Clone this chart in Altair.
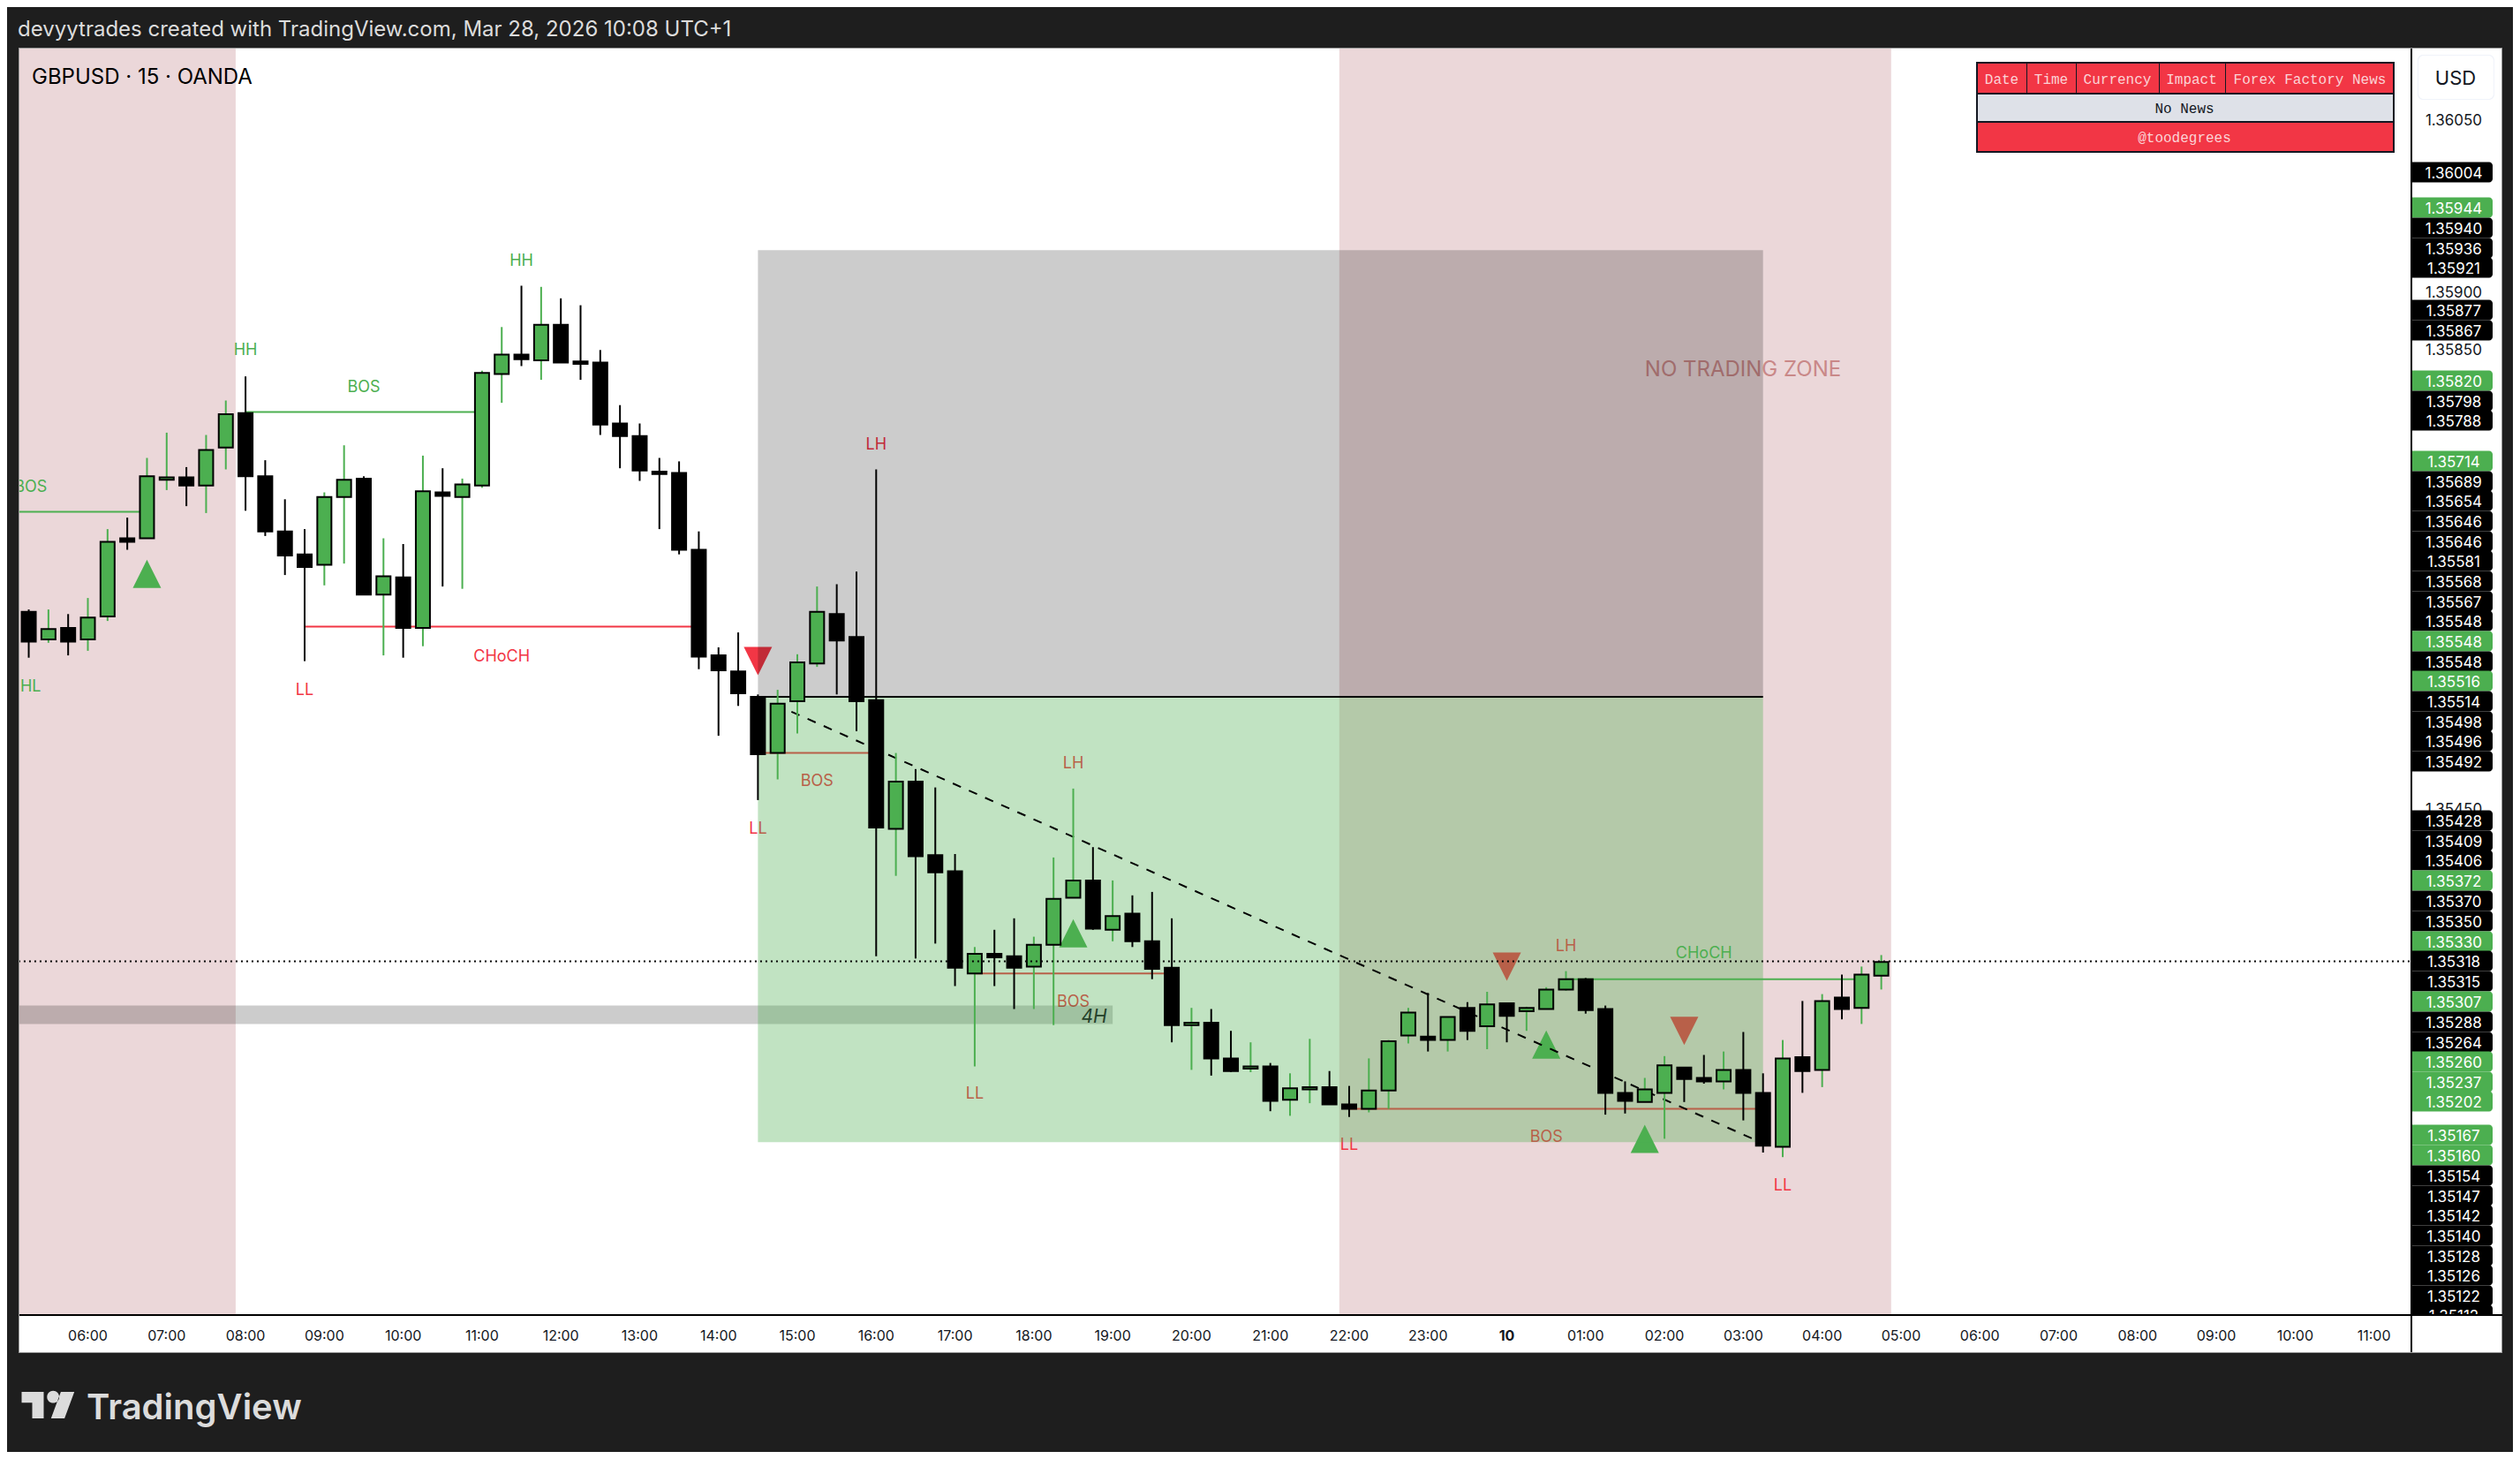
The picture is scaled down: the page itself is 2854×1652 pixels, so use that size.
import altair as alt
import pandas as pd

# ---------- market data (prices in units of 0.00001) ----------
BAR = list(range(-3, 92))
OPEN = [135621,135597,135607,135597,135617,135685,135685,135736,135738,135731,135764,135794,135739,135691,135671,135662,135721,135737,135636,135651,135607,135725,135721,135731,135828,135845,135840,135871,135839,135838,135785,135774,135743,135742,135675,135583,135569,135547,135498,135543,135576,135619,135599,135544,135432,135473,135409,135395,135306,135323,135321,135312,135331,135372,135387,135344,135358,135334,135311,135261,135263,135232,135223,135225,135196,135205,135207,135192,135188,135204,135252,135251,135248,135276,135260,135280,135273,135275,135292,135301,135275,135202,135194,135202,135224,135215,135212,135222,135202,135155,135233,135222,135285,135276,135304]
HIGH = [135623,135623,135619,135633,135693,135703,135755,135777,135747,135775,135805,135826,135753,135719,135693,135725,135766,135739,135685,135680,135757,135746,135737,135831,135869,135905,135904,135894,135888,135849,135801,135785,135755,135752,135691,135590,135603,135549,135553,135584,135643,135645,135656,135745,135498,135484,135468,135410,135329,135344,135354,135338,135407,135467,135416,135387,135374,135377,135354,135276,135275,135256,135246,135228,135219,135249,135221,135208,135232,135248,135276,135289,135268,135281,135290,135280,135277,135294,135308,135302,135278,135212,135215,135234,135224,135235,135238,135255,135219,135248,135282,135288,135305,135312,135322]
LOW = [135581,135594,135583,135587,135613,135675,135685,135727,135713,135707,135745,135709,135687,135653,135578,135644,135663,135636,135583,135581,135591,135643,135641,135729,135803,135835,135823,135838,135823,135775,135746,135735,135693,135671,135571,135513,135539,135457,135475,135515,135573,135549,135517,135321,135391,135319,135332,135295,135225,135295,135275,135275,135261,135372,135344,135334,135329,135301,135246,135222,135217,135220,135220,135186,135182,135193,135192,135181,135185,135188,135245,135238,135238,135248,135240,135246,135256,135275,135291,135271,135183,135184,135194,135162,135194,135210,135205,135178,135150,135146,135202,135207,135266,135262,135292]
CLOSE = [135595,135606,135595,135616,135682,135682,135739,135738,135731,135762,135793,135739,135691,135670,135660,135721,135736,135636,135652,135607,135726,135722,135732,135829,135845,135841,135871,135838,135837,135784,135774,135744,135741,135675,135582,135570,135550,135497,135541,135577,135621,135596,135543,135433,135473,135408,135394,135311,135323,135320,135311,135331,135371,135387,135345,135356,135334,135310,135261,135263,135232,135221,135225,135195,135206,135207,135192,135188,135204,135247,135272,135248,135268,135256,135279,135269,135276,135292,135301,135274,135202,135195,135205,135226,135214,135212,135222,135202,135156,135232,135221,135282,135275,135305,135316]

# ---------- annotations ----------
SESSION_START = [-3.52, 63.5]
SESSION_END = [7.5, 91.5]
LEVELS = [  # from bar, to bar, price, colour name
    (-4, 3, 135708, "up"), (8, 20, 135795, "up"), (11, 31, 135608, "down"),
    (34, 40, 135498, "down"), (45, 55, 135306, "down"), (64, 85, 135188, "down"),
    (75, 90, 135301, "up"),
]
LABELS = [  # text, bar, price, colour name
    ("BOS", -2.9, 135731, "up"), ("HL", -2.9, 135557, "up"), ("HH", 8, 135850, "up"),
    ("BOS", 14, 135818, "up"), ("HH", 22, 135928, "up"), ("LL", 11, 135554, "down"),
    ("CHoCH", 21, 135583, "down"), ("LH", 40, 135768, "down"), ("LL", 34, 135433, "down"),
    ("BOS", 37, 135475, "down"), ("LH", 50, 135490, "down"), ("BOS", 50, 135282, "down"),
    ("LL", 45, 135202, "down"), ("LH", 75, 135331, "down"), ("CHoCH", 82, 135325, "up"),
    ("BOS", 74, 135165, "down"), ("LL", 64, 135158, "down"), ("LL", 86, 135122, "down"),
]
TRI_UP = [(3, 135654), (50, 135341), (74, 135244), (79, 135162)]
TRI_DOWN = [(34, 135578), (72, 135312), (81, 135256)]
BOX_FROM, BOX_TO = 34, 85
BOX_TOP, BOX_MID, BOX_BOTTOM = 135936, 135547, 135159
TREND_BAR = [35.7, 85]
TREND_PRICE = [135534, 135158]
LAST_PRICE = 135316.5
BAND_FROM, BAND_TO, BAND_TOP, BAND_BOTTOM = -3.52, 52, 135278, 135262

TIME_BARS = list(range(0, 120, 4))
TIME_TEXT = [f"{h:02d}:00" for h in range(6, 24)] + ["10"] + [f"{h:02d}:00" for h in range(1, 12)]

# price column
TAG_TEXT = ["1.36050","1.36004","1.35944","1.35940","1.35936","1.35921","1.35900","1.35877","1.35867","1.35850","1.35820","1.35798","1.35788","1.35714","1.35689","1.35654","1.35646","1.35646","1.35581","1.35568","1.35567","1.35548","1.35548","1.35548","1.35516","1.35514","1.35498","1.35496","1.35492","1.35450","1.35428","1.35409","1.35406","1.35372","1.35370","1.35350","1.35330","1.35318","1.35315","1.35307","1.35288","1.35264","1.35260","1.35237","1.35202","1.35167","1.35160","1.35154","1.35147","1.35142","1.35140","1.35128","1.35126","1.35122","1.35112"]
GREEN_TAGS = {2, 10, 13, 22, 24, 33, 36, 39, 42, 43, 44, 45, 46}
PLAIN_TAGS = {0, 6, 9, 29}
# slots in the column after the platform de-overlaps the tags (layout, not data)
TAG_SLOT = [135,195,235,258,281,303,330,351,374,395,431,454,476,522,545,567,590,613,635,658,681,703,726,749,771,794,817,839,862,915,929,952,974,997,1020,1043,1066,1088,1111,1134,1157,1180,1202,1225,1247,1285,1308,1331,1354,1376,1399,1422,1444,1467,1489]

# ---------- colours ----------
UP, DOWN, INK, DARK = "#4caf50", "#f23645", "#000000", "#1e1e1e"
TONE = {"up": UP, "down": DOWN}
PINK = "#ebd7d9"
OFF = 8  # page margin
TEXT_DY = 2

XS = alt.Scale(domain=[0, 100], range=[91.5, 2323.5], nice=False, zero=False, padding=0)
YS = alt.Scale(domain=[1.35, 1.3605], range=[1492, 127], nice=False, zero=False, padding=0)
P = 1e-5


def bx(f="i"):
    return alt.X(f"{f}:Q", scale=XS, axis=None, title=None)


def by(f="p"):
    return alt.Y(f"{f}:Q", scale=YS, axis=None, title=None)


def rx(f="x"):
    return alt.X(f"{f}:Q", scale=None, axis=None, title=None)


def ry(f="y"):
    return alt.Y(f"{f}:Q", scale=None, axis=None, title=None)


def rects(rows, **mark):
    df = pd.DataFrame(rows, columns=["x", "x2", "y", "y2", "c"])
    for k in ["x", "x2", "y", "y2"]:
        df[k] = df[k] - OFF
    return alt.Chart(df).mark_rect(**mark).encode(
        x=rx(), x2=alt.X2("x2:Q"), y=ry(), y2=alt.Y2("y2:Q"),
        color=alt.Color("c:N", scale=None, legend=None))


def texts(rows, **mark):
    df = pd.DataFrame(rows, columns=["t", "x", "y"])
    df["x"] -= OFF
    df["y"] -= OFF
    mark.setdefault("baseline", "middle")
    mark.setdefault("dy", TEXT_DY)
    return alt.Chart(df).mark_text(**mark).encode(x=rx(), y=ry(), text="t:N")


def price_band(i0, i1, top, bottom, color, opacity):
    df = pd.DataFrame([{"i": i0, "i2": i1, "p": top * P, "p2": bottom * P}])
    return alt.Chart(df).mark_rect(color=color, opacity=opacity).encode(
        x=bx(), x2=alt.X2("i2:Q"), y=by(), y2=alt.Y2("p2:Q"))


layers = []
# frame and plot paper
layers.append(rects([(21, 2834, 54, 1532, "#9a9a9a"), (22, 2833, 55, 1531, "#ffffff")]))

# session shading
sess = pd.DataFrame({"i": SESSION_START, "i2": SESSION_END, "y": [55 - OFF] * 2, "y2": [1488 - OFF] * 2})
layers.append(alt.Chart(sess).mark_rect(color=PINK).encode(
    x=bx(), x2=alt.X2("i2:Q"), y=ry(), y2=alt.Y2("y2:Q")))

# structure lines, labels, signals (sit under the position box)
lv = pd.DataFrame([{"i": a, "i2": b, "p": v * P, "c": TONE[c]} for a, b, v, c in LEVELS])
layers.append(alt.Chart(lv).mark_rule(strokeWidth=2).encode(
    x=bx(), x2=alt.X2("i2:Q"), y=by(), color=alt.Color("c:N", scale=None, legend=None)))
lb = pd.DataFrame([{"t": t, "i": a, "p": v * P, "c": TONE[c]} for t, a, v, c in LABELS])
layers.append(alt.Chart(lb).mark_text(font="Inter", fontSize=18, baseline="middle", dy=TEXT_DY).encode(
    x=bx(), y=by(), text="t:N", color=alt.Color("c:N", scale=None, legend=None)))
up = pd.DataFrame([{"i": a, "p": v * P} for a, v in TRI_UP])
dn = pd.DataFrame([{"i": a, "p": v * P} for a, v in TRI_DOWN])
layers.append(alt.Chart(up).mark_point(filled=True, shape="M-1,1L1,1L0,-1Z", size=1024, color=UP, opacity=1, strokeWidth=0).encode(x=bx(), y=by()))
layers.append(alt.Chart(dn).mark_point(filled=True, shape="M-1,-1L1,-1L0,1Z", size=1024, color=DOWN, opacity=1, strokeWidth=0).encode(x=bx(), y=by()))
layers.append(texts([("NO TRADING ZONE", 1974, 417)], font="Inter", fontSize=24, color="#c98888"))

# 4H zone
layers.append(price_band(BAND_FROM, BAND_TO, BAND_TOP, BAND_BOTTOM, "#000000", 0.2))

# position box
layers.append(price_band(BOX_FROM, BOX_TO, BOX_TOP, BOX_MID, "#000000", 0.2))
layers.append(price_band(BOX_FROM, BOX_TO, BOX_MID, BOX_BOTTOM, UP, 0.35))
layers.append(alt.Chart(pd.DataFrame([{"i": BOX_FROM, "i2": BOX_TO, "p": BOX_MID * P}])).mark_rule(strokeWidth=2, color=INK).encode(
    x=bx(), x2=alt.X2("i2:Q"), y=by()))
layers.append(texts([("4H", 1239, 1150)], font="Inter", fontSize=21, fontStyle="italic", color="#24402a"))

# trend line
tr = pd.DataFrame({"i": TREND_BAR, "p": [v * P for v in TREND_PRICE]})
layers.append(alt.Chart(tr).mark_line(color=INK, strokeWidth=2, strokeDash=[10, 10]).encode(x=bx(), y=by()))

# candles
cd = pd.DataFrame({"i": BAR, "o": [v * P for v in OPEN], "h": [v * P for v in HIGH],
                   "l": [v * P for v in LOW], "cl": [v * P for v in CLOSE]})
cd["up"] = cd["cl"] >= cd["o"]
cd["wick"] = cd["up"].map({True: UP, False: INK})
layers.append(alt.Chart(cd).mark_rule(strokeWidth=2).encode(
    x=bx(), y=by("l"), y2=alt.Y2("h:Q"), color=alt.Color("wick:N", scale=None, legend=None)))
layers.append(alt.Chart(cd).mark_bar(size=16, stroke=INK, strokeWidth=2).encode(
    x=bx(), y=by("o"), y2=alt.Y2("cl:Q"), color=alt.Color("wick:N", scale=None, legend=None)))

# last price
lp = pd.DataFrame([{"i": -3.52, "i2": 118.2, "p": LAST_PRICE * P}])
layers.append(alt.Chart(lp).mark_rule(color=INK, strokeWidth=2, strokeDash=[2, 4]).encode(
    x=bx(), x2=alt.X2("i2:Q"), y=by()))

# clip strip at left, header
layers.append(rects([(0, 21, 0, 1652, DARK), (21, 22, 54, 1532, "#9a9a9a")]))
layers.append(texts([("devyytrades created with TradingView.com, Mar 28, 2026 10:08 UTC+1", 20, 32)],
                    font="Inter", fontSize=24, color="#dcdcdc", align="left"))
layers.append(texts([("GBPUSD · 15 · OANDA", 36, 86)], font="Inter", fontSize=24, color="#000000", align="left"))

# news table
layers.append(rects([
    (2238, 2712, 70, 173, "#131722"),
    (2240, 2295, 72, 105, DOWN), (2296, 2351, 72, 105, DOWN), (2352, 2445, 72, 105, DOWN),
    (2446, 2520, 72, 105, DOWN), (2521, 2710, 72, 105, DOWN),
    (2240, 2710, 107, 137, "#dee1e8"), (2240, 2710, 139, 171, DOWN),
]))
layers.append(texts([("Date", 2267, 88), ("Time", 2323, 88), ("Currency", 2398, 88), ("Impact", 2482, 88),
                     ("Forex Factory News", 2616, 88), ("@toodegrees", 2474, 154)],
                    font="Liberation Mono", fontSize=16, color="#fbd3d6"))
layers.append(texts([("No News", 2474, 121)], font="Liberation Mono", fontSize=16, color="#131722"))

# price column
plain = [(TAG_TEXT[k], 2779, TAG_SLOT[k]) for k in sorted(PLAIN_TAGS)]
layers.append(texts(plain, font="Inter", fontSize=17, color="#131722"))
tags = []
for k, t in enumerate(TAG_TEXT):
    if k in PLAIN_TAGS:
        continue
    c = UP if k in GREEN_TAGS else INK
    tags.append((2732, 2823, TAG_SLOT[k] - 11.5, TAG_SLOT[k] + 11.5, c))
layers.append(rects(tags, cornerRadiusTopRight=4, cornerRadiusBottomRight=4))
layers.append(texts([(TAG_TEXT[k], 2779, TAG_SLOT[k]) for k in range(len(TAG_TEXT)) if k not in PLAIN_TAGS],
                    font="Inter", fontSize=17, color="#ffffff"))
layers.append(rects([(2738, 2825, 62, 113, "#f0f3fa"), (2739, 2824, 63, 112, "#ffffff")], cornerRadius=6))
layers.append(texts([("USD", 2781, 87)], font="Inter", fontSize=22, color="#131722"))

# time column
layers.append(rects([(22, 2833, 1490, 1531, "#ffffff")]))
layers.append(rects([(22, 2834, 1488, 1490, INK), (2730, 2732, 55, 1531, INK)]))
tm = pd.DataFrame({"i": TIME_BARS, "t": TIME_TEXT})
tm["y"] = 1511 - OFF
layers.append(alt.Chart(tm[tm["t"] != "10"]).mark_text(font="Inter", fontSize=16, baseline="middle", dy=TEXT_DY, color="#131722").encode(
    x=bx(), y=ry(), text="t:N"))
layers.append(alt.Chart(tm[tm["t"] == "10"]).mark_text(font="Inter", fontSize=16, fontWeight="bold", baseline="middle", dy=TEXT_DY, color="#131722").encode(
    x=bx(), y=ry(), text="t:N"))

# footer logo
logo = "M-1,-.5L-.167,-.5L-.167,.5L-.6,.5L-.6,-.09L-1,-.09ZM-.04,-.31a.23,.23 0 1,0 .46,0a.23,.23 0 1,0 -.46,0ZM.48,-.5L.99,-.5L.62,.5L.11,.5Z"
layers.append(alt.Chart(pd.DataFrame([{"x": 54.5 - OFF, "y": 1591 - OFF}])).mark_point(
    filled=True, shape=logo, size=3600, color="#dcdcdc", opacity=1, strokeWidth=0).encode(x=rx(), y=ry()))
layers.append(texts([("TradingView", 98, 1593)], font="Inter", fontSize=40, fontWeight=600, color="#dcdcdc", align="left"))

chart = alt.layer(*layers).properties(
    width=2838, height=1636, padding=0, background=DARK,
    autosize=alt.AutoSizeParams(type="none"),
).configure_view(stroke=None)

chart.save("out.html", embed_options={"renderer": "svg", "actions": False})
